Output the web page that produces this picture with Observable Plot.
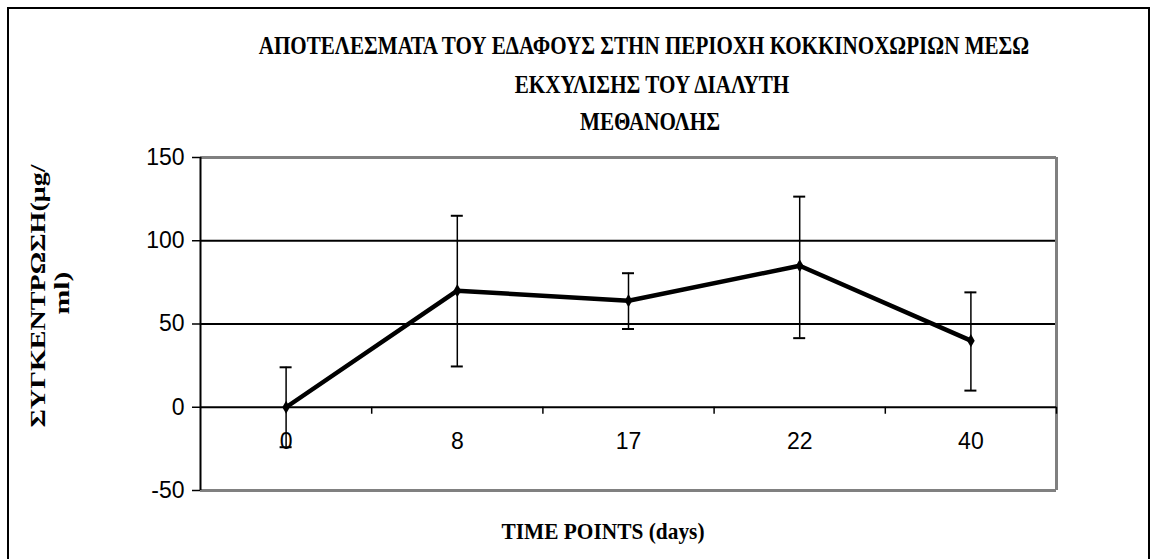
<!DOCTYPE html>
<html><head><meta charset="utf-8">
<script src="https://cdn.jsdelivr.net/npm/d3@7"></script>
<script src="https://cdn.jsdelivr.net/npm/@observablehq/plot@0.6"></script>
<style>
body{margin:0;background:#fff;}
#wrap{position:relative;width:1160px;height:559px;overflow:hidden;background:#fff}
#frame{position:absolute;left:7px;top:7px;width:1143px;height:600px;border:2px solid #000;box-sizing:border-box;}
#chart{position:absolute;left:0;top:0;}
.t{position:absolute;white-space:nowrap;font-family:"Liberation Serif","Times New Roman",serif;font-weight:bold;color:#000;line-height:1;}
</style></head><body><div id="wrap"><div id="frame"></div><div id="chart"></div></div>
<script>
const categories = ["0", "8", "17", "22", "40"];
const means = [0, 70, 64, 85, 40];
const upper = [24, 115, 80.5, 126.5, 69];
const lower = [-24, 24.5, 47, 41.5, 10];
const yTicks = [-50, 0, 50, 100, 150];
const titleLines = ["ΑΠΟΤΕΛΕΣΜΑΤΑ ΤΟΥ ΕΔΑΦΟΥΣ ΣΤΗΝ ΠΕΡΙΟΧΗ ΚΟΚΚΙΝΟΧΩΡΙΩΝ ΜΕΣΩ", "ΕΚΧΥΛΙΣΗΣ ΤΟΥ ΔΙΑΛΥΤΗ", "ΜΕΘΑΝΟΛΗΣ"];
const xTitle = "TIME POINTS (days)";
const yTitle = ["ΣΥΓΚΕΝΤΡΩΣΗ(μg/", "ml)"];

const data = categories.map((c, i) => ({i, c, m: means[i], lo: lower[i], hi: upper[i]}));
const bounds = d3.range(categories.length).map(i => i + 0.5);
const numFont = "Liberation Sans, Arial, sans-serif";

const chart = Plot.plot({
  width: 1160, height: 559,
  marginLeft: 200, marginRight: 104, marginTop: 157, marginBottom: 69,
  x: {type: "linear", domain: [-0.5, categories.length - 0.5], axis: null},
  y: {domain: [-50, 150], axis: null},
  style: {background: "transparent"},
  marks: [
    Plot.ruleY([50, 100], {stroke: "#000", strokeWidth: 2}),
    Plot.ruleY([150, -50], {stroke: "#808080", strokeWidth: 3}),
    Plot.ruleX([categories.length - 0.5], {stroke: "#808080", strokeWidth: 3}),
    Plot.ruleX([-0.5], {stroke: "#000", strokeWidth: 2}),
    Plot.axisY(yTicks, {anchor: "left", tickSize: 8, tickPadding: 8, fontSize: 23, fontFamily: numFont, label: null, strokeWidth: 1.5, tickFormat: d => String(d)}),
    Plot.ruleY([0], {stroke: "#000", strokeWidth: 2}),
    Plot.ruleX(bounds, {y1: 0, y2: 0, insetBottom: -7, stroke: "#000", strokeWidth: 1.5}),
    Plot.text(data, {x: "i", y: 0, text: "c", dy: 34, fontSize: 23, fontFamily: numFont, fill: "#000"}),
    Plot.ruleX(data, {x: "i", y1: "lo", y2: "hi", stroke: "#000", strokeWidth: 1.5}),
    Plot.ruleY(data, {y: "hi", x1: "i", x2: "i", insetLeft: -6, insetRight: -6, stroke: "#000", strokeWidth: 2}),
    Plot.ruleY(data, {y: "lo", x1: "i", x2: "i", insetLeft: -6, insetRight: -6, stroke: "#000", strokeWidth: 2}),
    Plot.line(data, {x: "i", y: "m", stroke: "#000", strokeWidth: 4.5}),
    Plot.dot(data, {x: "i", y: "m", symbol: "diamond", r: 4, fill: "#000"})
  ]
});
document.getElementById("chart").appendChild(chart);

const ctx = document.createElement("canvas").getContext("2d");
const wrap = document.getElementById("wrap");
function place(str, cx, cy, w, size, rot) {
  const font = `bold ${size}px "Liberation Serif"`;
  ctx.font = font;
  const k = w / ctx.measureText(str).width;
  const d = document.createElement("div");
  d.className = "t";
  d.textContent = str;
  d.style.fontSize = size + "px";
  d.style.left = cx + "px";
  d.style.top = cy + "px";
  d.style.transform = `translate(-50%,-50%) rotate(${rot || 0}deg) scaleX(${k})`;
  wrap.appendChild(d);
}
place(titleLines[0], 644, 45, 772, 25);
place(titleLines[1], 652, 84, 276, 25);
place(titleLines[2], 650, 121, 140, 25);
place(xTitle, 603, 531, 203, 23);
place(yTitle[0], 38, 296, 263, 20, -90);
place(yTitle[1], 62, 293, 43, 20, -90);
</script></body></html>
